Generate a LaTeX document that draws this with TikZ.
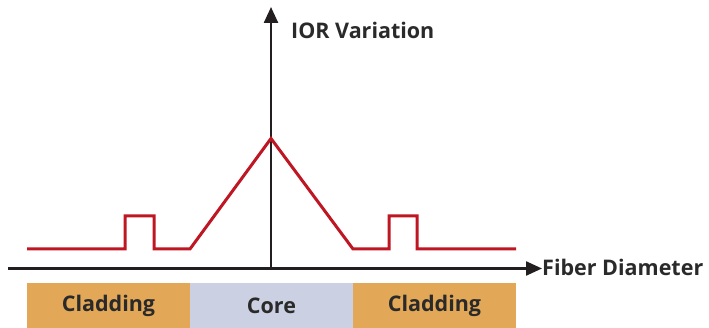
\documentclass[tikz,border=0pt]{standalone}
\usepackage{fontspec}
\setmainfont{Open Sans}
\usetikzlibrary{arrows.meta}
\definecolor{curvered}{HTML}{BE1622}
\definecolor{cladorange}{HTML}{E3A857}
\definecolor{corelav}{HTML}{CBD0E3}
\definecolor{axisblack}{HTML}{231F20}
\definecolor{txtdark}{HTML}{2A2A2A}
\tikzset{
  axisline/.style={draw=axisblack, line width=2.4pt, -{Triangle[length=16pt,width=14pt]}},
  curveline/.style={draw=curvered, line width=3pt, line join=miter},
  barbox/.style={minimum height=45pt, inner sep=0pt, outer sep=0pt, font=\bfseries\fontsize{21.5}{24}\selectfont, text=txtdark},
  axislabel/.style={font=\bfseries\fontsize{21.5}{24}\selectfont, text=txtdark, inner sep=0pt}
}
\begin{document}
\begin{tikzpicture}[x=1pt,y=-1pt]
\useasboundingbox (0,0) rectangle (709,328);
% bars
\node[barbox, fill=cladorange, minimum width=163pt, anchor=north west] (cl1) at (27,283) {\raisebox{-1.5pt}{Cladding}};
\node[barbox, fill=corelav, minimum width=163pt, anchor=north west] (core) at (190,283) {\raisebox{-1.5pt}{Core}};
\node[barbox, fill=cladorange, minimum width=163pt, anchor=north west] (cl2) at (353,283) {\raisebox{-1.5pt}{Cladding}};
% axes
\coordinate (xs) at (8,268.5);
\coordinate (xe) at (542,268.5);
\coordinate (ys) at (271,268.5);
\coordinate (ye) at (271,7);
\draw[axisline] (xs) -- (xe);
\draw[axisline] (ys) -- (ye);
\node[axislabel, anchor=west] (xl) at (542,267) {Fiber Diameter};
\node[axislabel, anchor=west] (yl) at (291,30) {IOR Variation};
% curve
\draw[curveline] (27,249) -- (125,249) -- (125,216) -- (154,216) -- (154,249) -- (190,249)
  -- (271,138.5) -- (353,249) -- (389,249) -- (389,216) -- (417,216) -- (417,249) -- (516,249);
\end{tikzpicture}
\end{document}
